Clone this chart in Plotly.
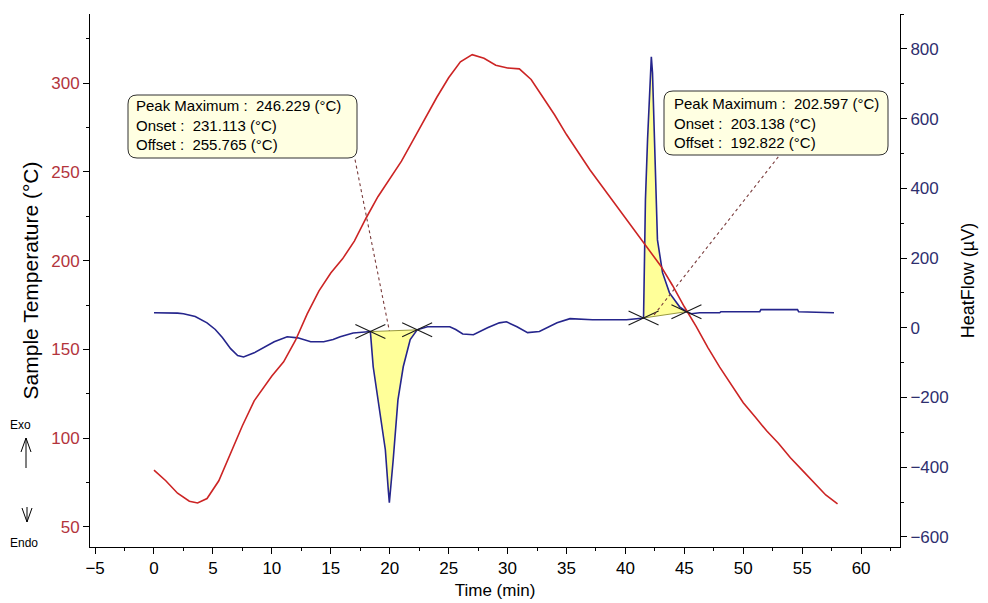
import plotly.graph_objects as go

# ---------------- data ----------------
time_temp = [0, 1, 2, 3, 3.7, 4.5, 5.5, 6.5, 7.5, 8.5, 10, 11, 12, 13, 14, 15, 16, 17, 18, 19,
             20, 21, 22, 23, 24, 25, 26, 27, 28, 29, 30, 31, 32, 33, 34, 35, 36, 37, 38, 39,
             40, 41, 42, 43, 44, 45, 46, 47, 48, 49, 50, 51, 52, 53, 54, 55, 56, 57, 58]
sample_temp = [82, 76, 69, 64.5, 63.5, 66, 76, 92, 107, 121, 135, 143, 155, 170, 183, 193, 201, 211, 224, 236,
               246, 256, 268, 280, 292, 303, 312, 316, 314, 310, 308.5, 308, 302, 292, 282, 271, 261, 251, 242, 233,
               224, 215, 206, 197, 186, 174, 163, 151, 140, 130, 120, 112, 104, 97, 89, 82, 75, 68, 63]

time_hf = [0, 1, 2, 2.5, 3.5, 4.5, 5.2, 5.8, 6.5, 7.1, 7.6, 8.5, 9.3, 10.2, 11.3, 12.2, 13.3, 14.4, 15.2, 15.8,
           16.9, 18.36, 18.6, 19.2, 19.63, 19.88, 19.97, 20.3, 20.7, 21.15, 21.74, 22.33, 23.2, 25.1, 25.6, 26.2,
           27.1, 28.3, 29.3, 29.9, 30.8, 31.7, 32.7, 34.2, 35.3, 37.2, 40.1, 41.54, 41.62, 41.7, 41.88, 42.05,
           42.2, 42.3, 42.47, 42.64, 42.72, 43.15, 43.74, 44.6, 45.18, 45.6, 46.3, 48.0, 48.1, 51.4, 51.5, 54.6,
           54.7, 57.7]
heatflow = [43, 43, 42, 40, 32, 14, -5, -28, -60, -80, -84, -72, -56, -40, -26, -29, -40, -40, -34, -26,
            -15, -11, -112, -255, -350, -465, -502, -378, -207, -112, -34, -6, 3, 3, -5, -18,
            -20, 0, 14, 17, 3, -14, -11, 14, 26, 23, 23, 28, 158, 367, 540, 683,
            777, 731, 539, 396, 252, 158, 100, 60, 46, 40, 43, 43, 46, 46, 52, 52,
            46, 43]

# peak limits (onset marker time, offset marker time) on the heat-flow curve
endo_limits = [18.36, 22.33]
exo_limits = [41.54, 45.18]
endo_peak_time = 19.97
exo_peak_time = 42.2

box_labels = ["Peak Maximum :", "Onset :", "Offset :"]
endo_values = [246.229, 231.113, 255.765]
exo_values = [202.597, 203.138, 192.822]

# ---------------- styling ----------------
W, H = 988, 603
OFF = 8  # page body offset in the browser
PL, PR, PT, PB = 90, 900, 14, 547   # plot area in screenshot pixels
PW, PH = PR - PL, PB - PT
FONT = "Liberation Sans, Arial, sans-serif"
RED = "#CC2424"
BLUE = "#25258C"


def px(xp, yp):
    return (xp - PL) / PW, (PB - yp) / PH


def segment(t0, t1):
    ts = [t for t in time_hf if t0 <= t <= t1]
    hs = [h for t, h in zip(time_hf, heatflow) if t0 <= t <= t1]
    return ts, hs


def hf_at(t):
    return heatflow[time_hf.index(t)]


fig = go.Figure()

# yellow peak areas (closed by the straight baseline between onset and offset)
for lim in (endo_limits, exo_limits):
    ts, hs = segment(*lim)
    fig.add_trace(go.Scatter(x=ts, y=hs, mode="lines", fill="toself", fillcolor="#FFFF99",
                             line=dict(width=0), yaxis="y", hoverinfo="skip"))

fig.add_trace(go.Scatter(x=time_hf, y=heatflow, mode="lines", line=dict(color=BLUE, width=1.6),
                         yaxis="y", name="HeatFlow"))
fig.add_trace(go.Scatter(x=time_temp, y=sample_temp, mode="lines", line=dict(color=RED, width=1.6),
                         yaxis="y2", name="Sample Temperature"))

shapes = []
# baselines
for lim in (endo_limits, exo_limits):
    shapes.append(dict(type="line", xref="x", yref="y", x0=lim[0], y0=hf_at(lim[0]),
                       x1=lim[1], y1=hf_at(lim[1]), line=dict(color="#9A9A40", width=1)))
# crosses at limits
for lim in (endo_limits, exo_limits):
    for t in lim:
        h = hf_at(t)
        for sgn in (1, -1):
            shapes.append(dict(type="line", xref="x", yref="y", xsizemode="pixel", ysizemode="pixel",
                               xanchor=t, yanchor=h, x0=-15, x1=15, y0=-7 * sgn, y1=7 * sgn,
                               line=dict(color="#1A1A1A", width=1.1)))


def base_at(lim, t):
    h0, h1 = hf_at(lim[0]), hf_at(lim[1])
    return h0 + (h1 - h0) * (t - lim[0]) / (lim[1] - lim[0])


# leader lines (dotted) from boxes to peak positions on the baseline
shapes.append(dict(type="line", xref="x", yref="y", x0=17.06, y0=482, x1=endo_peak_time,
                   y1=base_at(endo_limits, endo_peak_time), line=dict(color="#7A3C3C", width=1.1, dash="dot")))
shapes.append(dict(type="line", xref="x", yref="y", x0=52.97, y0=490, x1=exo_peak_time + 0.1,
                   y1=base_at(exo_limits, exo_peak_time), line=dict(color="#7A3C3C", width=1.1, dash="dot")))


def rounded_box(x0p, y0p, x1p, y1p, r=9):
    x0, y1 = px(x0p, y0p)
    x1, y0 = px(x1p, y1p)
    rx, ry = r / PW, r / PH
    path = (f"M {x0 + rx},{y1} L {x1 - rx},{y1} Q {x1},{y1} {x1},{y1 - ry} "
            f"L {x1},{y0 + ry} Q {x1},{y0} {x1 - rx},{y0} L {x0 + rx},{y0} "
            f"Q {x0},{y0} {x0},{y0 + ry} L {x0},{y1 - ry} Q {x0},{y1} {x0 + rx},{y1} Z")
    return dict(type="path", xref="paper", yref="paper", path=path, fillcolor="#FFFFE2",
                line=dict(color="#303030", width=1), layer="above")


shapes.append(rounded_box(128, 95, 357, 158))
shapes.append(rounded_box(664, 91, 888, 155))


# Exo / Endo arrows in left margin
def pline(xa, ya, xb, yb):
    x0, y0 = px(xa, ya)
    x1, y1 = px(xb, yb)
    return dict(type="line", xref="paper", yref="paper", x0=x0, y0=y0, x1=x1, y1=y1,
                line=dict(color="black", width=1))


shapes += [pline(26, 438, 26, 468), pline(26, 438, 21, 452), pline(26, 438, 31, 452),
           pline(27, 507, 27, 522), pline(22, 508, 27, 522), pline(32, 508, 27, 522)]

annotations = []


def box_text(vals):
    return "<br>".join(f"{lab}  {v:.3f} (°C)" for lab, v in zip(box_labels, vals))


for (xp, yp, vals) in ((134, 125, endo_values), (672, 123, exo_values)):
    ax, ay = px(xp, yp)
    annotations.append(dict(xref="paper", yref="paper", x=ax, y=ay, xanchor="left", yanchor="middle",
                            align="left", showarrow=False, text=box_text(vals),
                            font=dict(family=FONT, size=15, color="black")))

for (txt, xp, yp) in (("Exo", 20, 425), ("Endo", 24, 543)):
    ax, ay = px(xp, yp)
    annotations.append(dict(xref="paper", yref="paper", x=ax, y=ay, xanchor="center", yanchor="middle",
                            showarrow=False, text=txt, font=dict(family=FONT, size=12, color="black")))

axis_common = dict(showline=True, linecolor="black", linewidth=1, ticks="outside", ticklen=6,
                   tickcolor="black", showgrid=False, zeroline=False)

fig.update_layout(
    width=W, height=H,
    margin=dict(l=PL - OFF, r=W - (PR - OFF), t=PT - OFF, b=H - (PB - OFF), autoexpand=False),
    paper_bgcolor="white", plot_bgcolor="white", showlegend=False,
    font=dict(family=FONT, size=17, color="black"),
    xaxis=dict(range=[-5.43, 63.3], tick0=0, dtick=5, **axis_common,
               minor=dict(dtick=2.5, ticklen=3, tickcolor="black", ticks="outside"),
               tickfont=dict(family=FONT, size=17, color="black"),
               title=dict(text="Time (min)", font=dict(family=FONT, size=17), standoff=6)),
    yaxis=dict(side="right", range=[-629, 900], tick0=0, dtick=200, **axis_common,
               minor=dict(dtick=100, ticklen=3, tickcolor="black", ticks="outside"),
               tickfont=dict(family=FONT, size=17, color="#2E2E6E"),
               title=dict(text="HeatFlow (µV)", font=dict(family=FONT, size=18), standoff=13)),
    yaxis2=dict(side="left", overlaying="y", range=[38.7, 338.9], tick0=0, dtick=50, **axis_common,
                minor=dict(dtick=25, ticklen=3, tickcolor="black", ticks="outside"),
                tickfont=dict(family=FONT, size=17, color="#B3343C"),
                title=dict(text="Sample Temperature (°C)", font=dict(family=FONT, size=21), standoff=6)),
    shapes=shapes, annotations=annotations,
)

fig.write_html("out.html")
